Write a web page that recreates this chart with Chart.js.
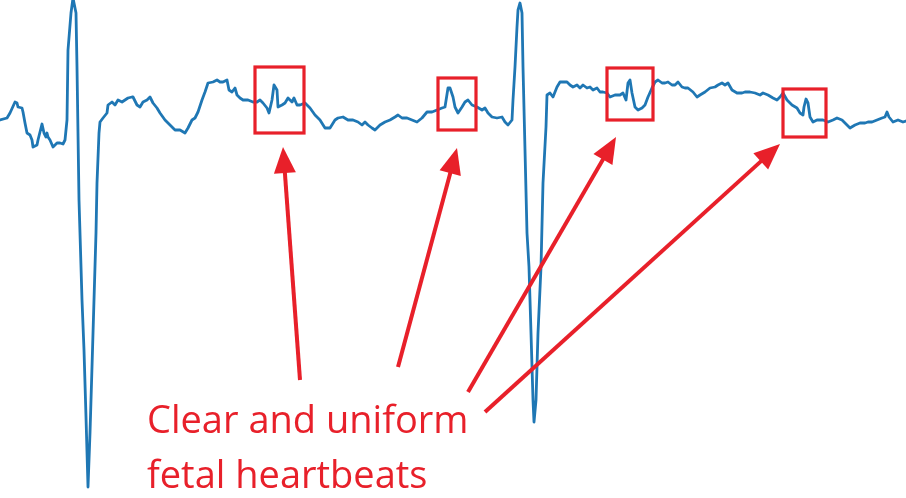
<!DOCTYPE html>
<html>
<head>
<meta charset="utf-8">
<script src="https://cdn.jsdelivr.net/npm/chart.js@4.4.1/dist/chart.umd.min.js"></script>
<style>
  html, body { margin: 0; padding: 0; background: #ffffff; }
  #wrap { position: relative; width: 906px; height: 498px; overflow: hidden; }
  #c { position: absolute; left: 0; top: 0; }
  #label {
    position: absolute; left: 147px; top: 391px;
    font-family: "Open Sans", "Noto Sans", sans-serif;
    font-size: 38px; line-height: 55px; color: #e8202a;
    white-space: nowrap;
  }
</style>
</head>
<body>
<div id="wrap">
  <canvas id="c" width="906" height="498"></canvas>
  <div id="label">Clear and uniform<br>fetal heartbeats</div>
</div>
<script>
// Time (samples) and amplitude (arbitrary units)
const timeSamples = [0,7,10,15,17,18,22,23,25,27,30,32,33,37,38,40,42,44,46,47,48,50,53,57,60,63,65,67,68,71,73,76,77,79,82,84,86,88,90,92,94,96,97,99,100,103,107,108,112,115,118,122,125,128,132,133,137,140,143,147,150,153,157,160,165,170,175,180,185,188,192,195,198,202,205,208,213,217,220,223,227,229,232,235,237,240,243,248,253,257,260,263,267,269,272,274,277,278,282,285,288,292,294,297,300,305,310,315,320,325,330,335,338,343,348,353,358,362,365,368,372,375,380,385,390,395,398,402,407,412,417,422,427,432,437,442,445,448,450,453,455,458,462,465,468,472,477,482,485,488,492,497,502,505,508,512,513,515,517,518,520,522,523,525,527,529,531,533,534,536,538,541,543,546,547,550,553,557,560,563,567,570,573,577,580,583,587,590,593,597,600,603,607,610,615,620,623,626,628,630,632,635,638,642,645,648,652,655,658,662,665,668,672,675,678,682,685,688,693,697,700,705,710,715,718,722,725,728,732,737,742,745,750,755,760,763,768,773,777,780,783,787,792,797,800,803,804,806,808,810,813,817,820,823,828,833,837,842,847,850,855,860,865,868,872,877,882,885,887,889,893,898,903,906];
const amplitude = [-10,-8,-3,8,7,3,2,-2,-13,-23,-25,-30,-37,-35,-30,-22,-14,-23,-27,-23,-27,-30,-37,-33,-33,-34,-30,-10,60,97,112,97,43,-90,-190,-240,-307,-377,-323,-257,-190,-123,-73,-23,-12,-8,-3,5,8,5,10,8,10,12,13,13,5,3,8,10,13,7,2,-3,-10,-15,-20,-20,-23,-18,-10,-8,-2,10,18,27,28,30,28,28,30,20,18,22,15,12,10,10,8,8,10,7,2,-3,10,25,20,3,5,7,12,8,12,5,5,7,2,-5,-10,-18,-18,-10,-8,-7,-10,-10,-12,-15,-12,-15,-18,-20,-15,-12,-10,-7,-5,-8,-8,-10,-12,-8,-2,-2,0,2,3,22,22,13,3,-3,3,8,10,5,3,0,2,-3,-7,-8,-7,-12,-15,-10,10,43,83,100,107,97,43,-40,-123,-157,-223,-290,-312,-290,-223,-157,-73,-17,15,17,13,23,28,28,28,25,23,25,22,25,22,23,20,22,18,18,17,13,15,15,17,10,27,30,17,3,0,2,5,13,22,28,30,27,27,28,25,25,28,23,22,22,18,13,15,18,22,23,25,27,25,27,20,17,17,18,18,17,15,17,15,12,10,13,17,10,5,2,-3,-5,3,11,7,-7,-12,-10,-10,-10,-12,-10,-8,-10,-15,-18,-15,-13,-13,-12,-12,-10,-8,-7,-2,-7,-12,-10,-12,-11];

// Annotation boxes around fetal beats: [tStart, tEnd, ampTop, ampBottom]
const beatBoxes = [[255,304,43,-23],[438,476,32,-20],[607,653,42,-10],[783,826,21,-27]];
// Arrows: [tTail, ampTail, tTip, ampTip]
const arrows = [[300,-270,283,-37],[398,-257,457,-38],[468,-282,616,-27],[485,-302,780,-34]];

const RED = '#e8202a';

const annotate = {
  id: 'annotate',
  afterDatasetsDraw(chart) {
    const {ctx, scales: {x, y}} = chart;
    ctx.save();
    ctx.strokeStyle = RED;
    ctx.fillStyle = RED;
    ctx.lineWidth = 3.2;
    beatBoxes.forEach(b => {
      const x1 = x.getPixelForValue(b[0]), x2 = x.getPixelForValue(b[1]);
      const y1 = y.getPixelForValue(b[2]), y2 = y.getPixelForValue(b[3]);
      ctx.strokeRect(x1, y1, x2 - x1, y2 - y1);
    });
    ctx.lineWidth = 4;
    ctx.lineCap = 'butt';
    arrows.forEach(a => {
      const tx = x.getPixelForValue(a[0]), ty = y.getPixelForValue(a[1]);
      const hx = x.getPixelForValue(a[2]), hy = y.getPixelForValue(a[3]);
      const ang = Math.atan2(hy - ty, hx - tx);
      const L = 26, W = 11;
      const bx = hx - L * Math.cos(ang), by = hy - L * Math.sin(ang);
      ctx.beginPath();
      ctx.moveTo(tx, ty);
      ctx.lineTo(bx + 2 * Math.cos(ang), by + 2 * Math.sin(ang));
      ctx.stroke();
      ctx.beginPath();
      ctx.moveTo(hx, hy);
      ctx.lineTo(bx + W * Math.sin(ang), by - W * Math.cos(ang));
      ctx.lineTo(bx - W * Math.sin(ang), by + W * Math.cos(ang));
      ctx.closePath();
      ctx.fill();
    });
    ctx.restore();
  }
};

new Chart(document.getElementById('c'), {
  type: 'line',
  data: {
    datasets: [{
      data: timeSamples.map((t, i) => ({x: t, y: amplitude[i]})),
      borderColor: '#1f77b4',
      borderWidth: 2.8,
      pointRadius: 0,
      tension: 0,
      fill: false,
      borderJoinStyle: 'round',
      borderCapStyle: 'round'
    }]
  },
  options: {
    responsive: false,
    animation: false,
    layout: { padding: 0 },
    plugins: { legend: { display: false }, tooltip: { enabled: false } },
    scales: {
      x: { type: 'linear', display: false, min: 0, max: 906 },
      y: { type: 'linear', display: false, min: -388, max: 110 }
    }
  },
  plugins: [annotate]
});
</script>
</body>
</html>
